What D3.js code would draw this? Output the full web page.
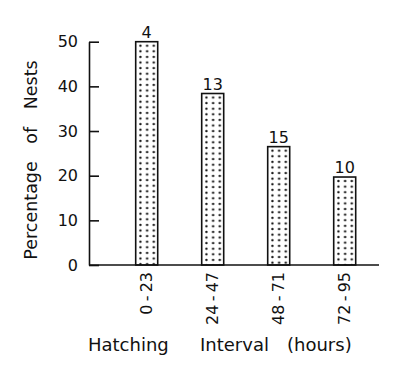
<!DOCTYPE html>
<html><head><meta charset="utf-8">
<script src="https://cdn.jsdelivr.net/npm/d3@7/dist/d3.min.js"></script>
<style>body{margin:0;background:#fff}svg{display:block}text{font-family:"DejaVu Sans",sans-serif;fill:#111}</style>
</head><body><svg id="c" width="400" height="368"></svg>
<script>
const categories = ["0-23","24-47","48-71","72-95"];
const percentages = [50, 38.4, 26.5, 19.7];
const nestCounts = ["4","13","15","10"];
const yTicks = [0,10,20,30,40,50];

const svg = d3.select("#c");
const y = d3.scaleLinear().domain([0,50]).range([265,41.7]);
const x = d3.scalePoint().domain(categories).range([146.7,344.7]);
const bw = 22;
const ink = "#111";

const defs = svg.append("defs");
categories.forEach((c,i)=>{
  const p = defs.append("pattern").attr("id","dots"+i).attr("patternUnits","userSpaceOnUse")
    .attr("width",6.7).attr("height",5.6)
    .attr("x",x(c)-bw/2+1.35).attr("y",y(percentages[i])+1.2);
  p.append("circle").attr("cx",3.35).attr("cy",2.8).attr("r",1.2).attr("fill",ink);
});

// bars
svg.append("g").selectAll("rect").data(categories).join("rect")
  .attr("x",d=>x(d)-bw/2).attr("width",bw)
  .attr("y",(d,i)=>y(percentages[i])).attr("height",(d,i)=>y(0)-y(percentages[i]))
  .attr("fill",(d,i)=>`url(#dots${i})`).attr("stroke",ink).attr("stroke-width",1.6);

// count labels
svg.append("g").selectAll("text").data(categories).join("text")
  .attr("x",d=>x(d)).attr("y",(d,i)=>y(percentages[i])-4)
  .attr("text-anchor","middle").attr("font-size",16).text((d,i)=>nestCounts[i]);

// y axis
const yAxis = d3.axisLeft(y).tickValues(yTicks).tickSize(-10).tickSizeOuter(0).tickPadding(11);
const gy = svg.append("g").attr("transform","translate(89,0)").call(yAxis);
gy.attr("font-family",null).attr("font-size",null);
gy.selectAll("path,line").attr("stroke",ink).attr("stroke-width",1.6);
gy.selectAll("text").attr("font-size",16).style("fill",ink);

// x baseline
svg.append("line").attr("x1",89).attr("x2",379).attr("y1",y(0)).attr("y2",y(0))
  .attr("stroke",ink).attr("stroke-width",1.6);

// x category labels rotated
svg.append("g").selectAll("text").data(categories).join("text")
  .attr("transform",d=>`translate(${x(d)+5.5},272) rotate(-90)`)
  .attr("text-anchor","end").attr("font-size",16).text(d=>d.replace("-","\u2009-\u2009"));

// axis titles
svg.append("text").attr("transform","translate(37,160) rotate(-90)")
  .attr("text-anchor","middle").attr("font-size",17.5).attr("word-spacing",12)
  .text("Percentage of Nests");
[["Hatching",88],["Interval",200],["(hours)",287]].forEach(([t,xx])=>{
  svg.append("text").attr("x",xx).attr("y",351).attr("font-size",18).text(t);
});
</script></body></html>
